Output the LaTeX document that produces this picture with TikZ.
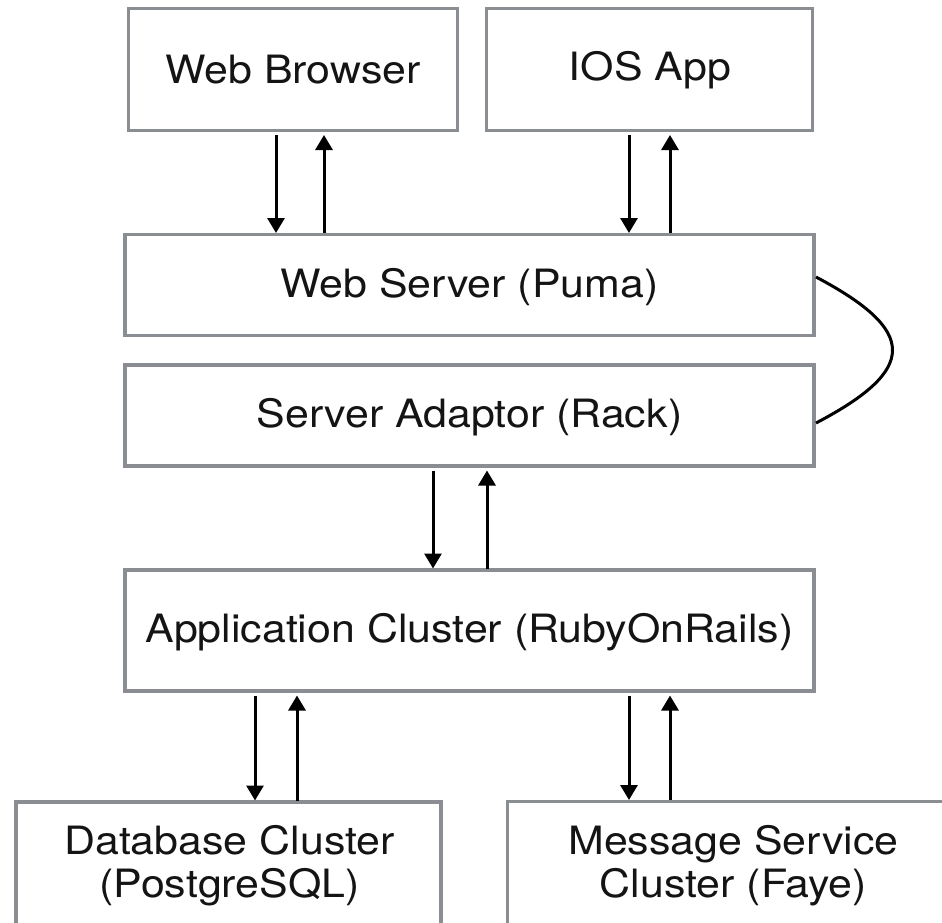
\documentclass[tikz,border=0pt]{standalone}
\usepackage{fontspec}
\setmainfont{TeX Gyre Heros}[FakeStretch=1.1]
\usetikzlibrary{arrows.meta,calc}
\definecolor{boxgray}{HTML}{8A8E93}
\tikzset{
  box/.style={draw=boxgray, line width=3.5pt, rectangle, inner sep=0pt, outer sep=0pt, fill=white},
  lbl/.style={inner sep=0pt, outer sep=0pt, align=center, font=\fontsize{39}{43}\selectfont, text=black!92},
  arr/.style={line width=3pt, -{Triangle[width=17pt,length=15pt]}},
  dnarr/.style={arr, shorten <=4.5pt, shorten >=1.5pt},
  uparr/.style={arr, shorten <=1.5pt, shorten >=4.5pt},
  loop/.style={line width=3pt, black}
}
\begin{document}
\begin{tikzpicture}[x=1pt, y=-1pt]
\useasboundingbox (0,0) rectangle (942,922);
\clip (0,0) rectangle (942,922);
\fill[white] (0,0) rectangle (942,922);

% boxes
\node[box, minimum width=329pt, minimum height=122pt] (wb) at (293,69.5) {};
\node[lbl] (wbt) at (293,70) {Web Browser};
\node[box, minimum width=326pt, minimum height=122pt] (ios) at (649.5,69.5) {};
\node[lbl] (iost) at (650,70) {IOS App};
\node[box, minimum width=689pt, minimum height=101pt] (ws) at (469.5,285) {};
\node[lbl] (wst) at (469.5,287) {Web Server (Puma)};
\node[box, minimum width=689pt, minimum height=101pt] (rack) at (469.5,415.5) {};
\node[lbl] (rackt) at (469.5,417) {Server Adaptor (Rack)};
\node[box, minimum width=689pt, minimum height=121pt] (app) at (469.5,630.5) {};
\node[lbl] (appt) at (469.5,632) {Application Cluster (RubyOnRails)};
\node[box, minimum width=425pt, minimum height=200pt, anchor=north] (db) at (228.5,802) {};
\node[lbl] (dbt) at (229.5,866) {Database Cluster\\(PostgreSQL)};
\node[box, minimum width=452pt, minimum height=200pt, anchor=north] (msg) at (733.5,801.5) {};
\node[lbl] (msgt) at (733.5,866) {Message Service\\Cluster (Faye)};

% arrows
\draw[dnarr] (276,0 |- wb.south) -- (276,0 |- ws.north);
\draw[uparr] (324,0 |- ws.north) -- (324,0 |- wb.south);
\draw[dnarr] (629,0 |- ios.south) -- (629,0 |- ws.north);
\draw[uparr] (670,0 |- ws.north) -- (670,0 |- ios.south);
\draw[dnarr] (433,0 |- rack.south) -- (433,0 |- app.north);
\draw[uparr] (487,0 |- app.north) -- (487,0 |- rack.south);
\draw[dnarr] (255,0 |- app.south) -- (255,0 |- db.north);
\draw[uparr] (297,0 |- db.north) -- (297,0 |- app.south);
\draw[dnarr] (629,0 |- app.south) -- (629,0 |- msg.north);
\draw[uparr] (670,0 |- msg.north) -- (670,0 |- app.south);

% loop between web server and adaptor
\draw[loop] ($(ws.east)+(2,-8)$) .. controls ($(ws.east)+(104,46)$) and ($(rack.east)+(104,-46)$) .. ($(rack.east)+(2,7.5)$);
\end{tikzpicture}
\end{document}
